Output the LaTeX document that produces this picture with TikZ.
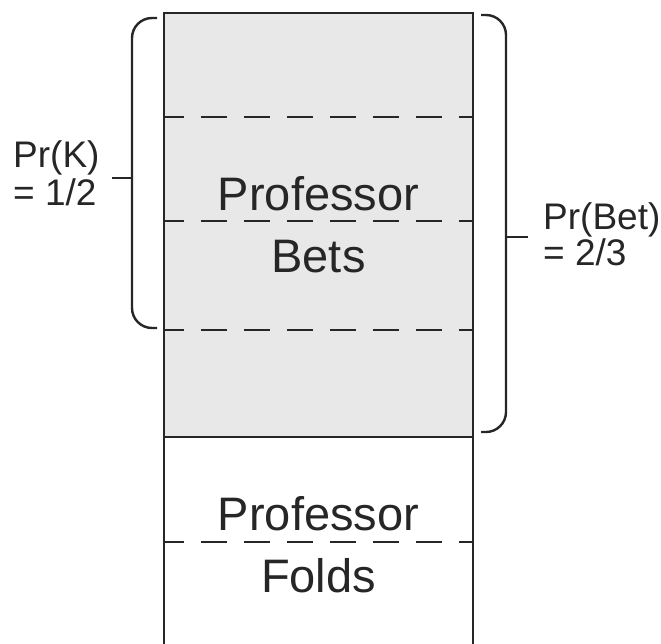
\documentclass[tikz,border=0pt]{standalone}
\usepackage{fontspec}
\setmainfont{Liberation Sans}
\begin{document}
\begin{tikzpicture}[x=1pt,y=-1pt,
  box/.style={line width=2pt,black!85},
  sep/.style={line width=2.2pt,black!85,dash pattern=on 26pt off 17pt,dash phase=6pt},
  brace/.style={line width=2.4pt,black!85,rounded corners=20pt},
  tick/.style={line width=1.8pt,black!85},
  big/.style={font=\fontsize{47}{56}\selectfont,text=black!85,anchor=base,inner sep=0pt},
  lab/.style={font=\fontsize{37}{40}\selectfont,text=black!85,anchor=base west,inner sep=0pt}]
\useasboundingbox (0,0) rectangle (661,643);
% shaded region
\fill[gray!18] (164,13) rectangle (473,437);
% dashed separators
\draw[sep] (164,117) -- (473,117);
\draw[sep] (164,221) -- (473,221);
\draw[sep] (164,330) -- (473,330);
\draw[sep] (164,542) -- (473,542);
% box
\draw[box] (164,646) -- (164,13) -- (473,13) -- (473,646);
\draw[box] (164,437) -- (473,437);
% texts
\node[big] (pb1) at (318.5,210) {Professor};
\node[big] (pb2) at (318.5,272) {Bets};
\node[big] (pf1) at (318.5,530) {Professor};
\node[big] (pf2) at (318.5,592) {Folds};
% left brace
\draw[brace] (157,18) -- (132,18) -- (132,328) -- (157,328);
\coordinate (lt) at (132,178);
\draw[tick] (lt) -- ++(-20,0);
\node[lab] (pk1) at (13,167) {Pr(K)};
\node[lab] (pk2) at (13,205) {= 1/2};
% right brace
\draw[brace] (481,15) -- (506,15) -- (506,432) -- (481,432);
\coordinate (rt) at (506,237);
\draw[tick] (rt) -- ++(22,0);
\node[lab] (pr1) at (543,229) {Pr(Bet)};
\node[lab] (pr2) at (543,265) {= 2/3};
\end{tikzpicture}
\end{document}
